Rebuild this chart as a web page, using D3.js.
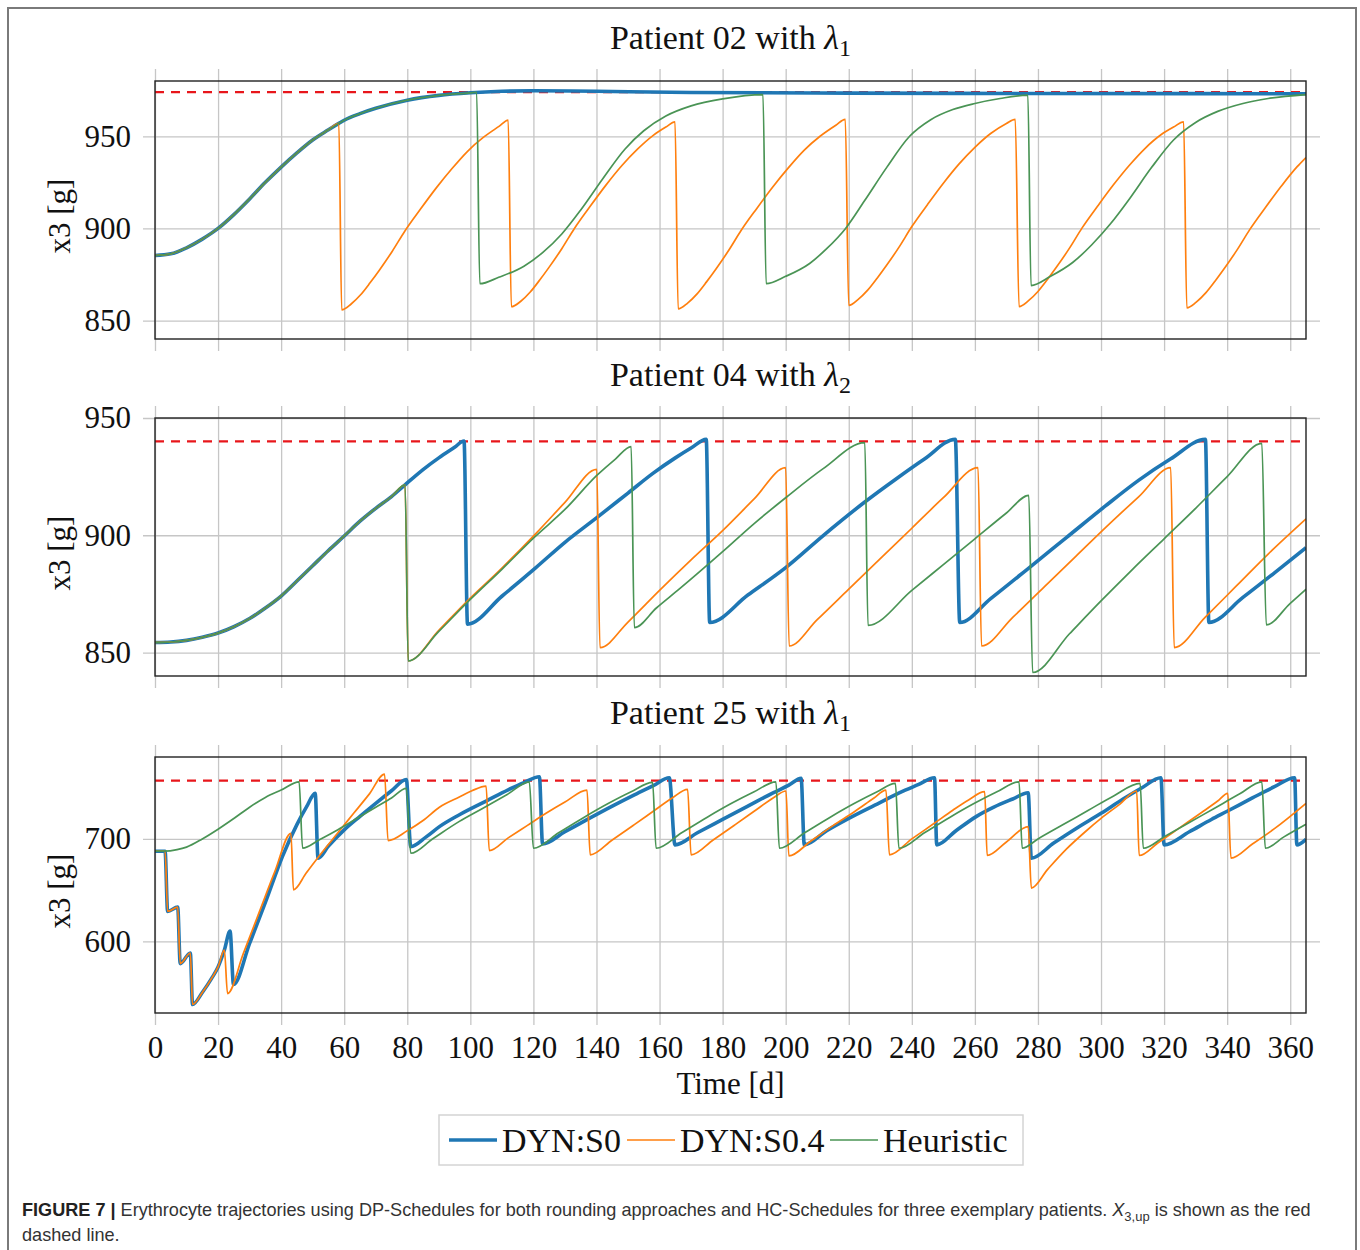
<!DOCTYPE html>
<html>
<head>
<meta charset="utf-8">
<script src="https://cdn.jsdelivr.net/npm/d3@7"></script>
<style>
  body { margin: 0; background: #fff; }
  svg text { font-family: "Liberation Serif", "Times New Roman", serif; fill: #111; }
  .grid line { stroke: #c6c6c6; stroke-width: 1.3; }
  .grid .domain { display: none; }
  text.caption { font-family: "Liberation Sans", Arial, sans-serif; fill: #333; }
</style>
</head>
<body>
<svg id="chart" width="1360" height="1250"></svg>
<script>
// x axis (days) and per-panel y ticks
var dayTicks = [0, 20, 40, 60, 80, 100, 120, 140, 160, 180, 200, 220, 240, 260, 280, 300, 320, 340, 360];
var dayDomain = [0, 365];

var p02Domain = [840, 980], p02Ticks = [850, 900, 950], p02Limit = 974;
var p04Domain = [840, 950], p04Ticks = [850, 900, 950], p04Limit = 940;
var p25Domain = [530, 780], p25Ticks = [600, 700], p25Limit = 757;

var seriesNames = ['DYN:S0', 'DYN:S0.4', 'Heuristic'];

// ---- Patient 02 ----
var p02Rise = [[0, 885.3], [5, 886.2], [10, 889.5], [15, 894.2], [20, 900], [25, 907.5], [30, 916], [35, 925],
  [40, 933.3], [45, 941], [50, 948], [55, 953.5], [58.3, 957]];
var p02Top = [[60, 958.7], [65, 962.3], [70, 965.2], [80, 969.6], [90, 972.2], [100, 973.6]];
var p02Dyn0 = p02Rise.concat(p02Top, [[110, 974.4], [120, 974.7], [140, 974.4], [170, 973.8], [220, 973.4],
  [280, 973.2], [365, 973.1]]);
var p02Dyn04 = p02Rise.concat([
  [59.2, 855.8], [62.2, 859], [65.2, 864], [68.2, 870.5], [71.2, 877.5], [75.2, 887.5], [79.2, 898.5], [84.2, 910.5],
  [89.2, 922], [94.2, 932.5], [99.2, 942], [104.2, 949.5], [109.2, 955.5], [112, 958.8],
  [113, 857.5], [116, 860.5], [119, 865.5], [122, 872], [125, 879], [129, 889], [133, 900], [138, 912],
  [143, 923.5], [148, 934], [153, 943], [158, 950.5], [162, 955], [164.9, 957.8],
  [165.9, 856.3], [168.9, 859.5], [171.9, 864.5], [174.9, 871], [177.9, 878], [181.9, 888], [185.9, 899], [190.9, 911],
  [195.9, 922.5], [200.9, 933], [205.9, 942.5], [210.9, 950], [215.9, 956], [218.9, 959.2],
  [220, 858.2], [223, 861.5], [226, 866.5], [229, 873], [232, 880], [236, 890], [240, 901], [245, 913],
  [250, 924.5], [255, 935], [260, 944], [265, 951.5], [270, 957], [272.8, 959.2],
  [274, 857.6], [277, 860.8], [280, 865.8], [283, 872.3], [286, 879.3], [290, 889.3], [294, 900.3], [299, 912.3],
  [304, 923.8], [309, 934.3], [314, 943.5], [319, 950.8], [323, 955], [326.2, 957.8],
  [327.2, 856.9], [330.2, 860], [333.2, 865], [336.2, 871.5], [339.2, 878.5], [343.2, 888.5], [347.2, 899.5],
  [352.2, 911.5], [357.2, 923], [362.2, 933.5], [365, 938.5]]);
var p02Heur = p02Rise.concat(p02Top, [
  [102, 973.9], [103, 870], [109, 873.5], [117, 879.5], [123, 887], [129, 897], [135, 910], [142, 927], [149, 943],
  [155, 953], [162, 961], [170, 966.5], [180, 970.3], [192.8, 972.6],
  [193.8, 870], [200, 874], [207.6, 881], [213, 889], [219, 900], [225, 915], [232, 933], [239.3, 950], [246, 959],
  [253, 964.5], [260, 967.8], [268, 970.5], [276.8, 972.3],
  [277.8, 869], [284, 874], [291, 881.5], [297, 891], [303, 902.5], [309, 916], [316, 933], [323, 948], [330, 957.5],
  [337, 963.5], [345, 967.8], [353, 970.5], [365, 972.6]]);

// ---- Patient 04 ----
var p04Rise = [[0, 854.3], [5, 854.5], [10, 855.2], [15, 856.5], [20, 858.3], [25, 861], [30, 864.5], [35, 869],
  [40, 874.1], [45, 880.5], [50, 887], [55, 893.5], [60, 899.7], [65, 906], [70, 911.5], [75, 916.5], [79.3, 921.5]];
var p04Dyn0 = p04Rise.concat([
  [85, 928], [90, 933], [95, 937.5], [98, 940.2],
  [99.1, 862.1], [110, 874], [120.6, 886], [130, 897], [140.1, 907.5], [150, 918], [158, 926.5], [165, 933], [170, 937.2], [174.8, 940.9],
  [175.9, 862.8], [188, 874.5], [200, 886.2], [212, 900], [225.5, 914.6], [235, 924], [244, 932.5], [253.8, 940.9],
  [255.2, 862.8], [265, 873], [276.6, 885.5], [289, 899], [301.4, 912.5], [312, 923.5], [322, 932.5], [333.1, 940.9],
  [334.2, 862.8], [345, 873.5], [355, 884], [365, 894.7]]);
var p04Dyn04 = p04Rise.concat([
  [80.3, 846.4], [90, 859.5], [98, 870.6], [110, 886], [120.6, 900.5], [130, 914], [140.1, 928.1],
  [141.1, 852.1], [150, 863], [160, 876.5], [170, 889.5], [180, 902], [190, 915.5], [200, 928.8],
  [201.1, 852.8], [210, 864], [220, 877], [230, 890], [240, 903], [250, 916], [261, 928.8],
  [262.1, 852.8], [272, 865], [282, 878], [292, 891], [302, 904], [312, 916.5], [322.1, 928.8],
  [323.2, 852.1], [333, 865], [343, 878.5], [353, 892], [365, 907]]);
var p04Heur = p04Rise.concat([
  [80.3, 846.4], [90, 859], [98, 870], [110, 885.5], [120.6, 899.5], [130, 911], [140.1, 925.5], [146, 932.5], [151, 937.8],
  [152, 860.6], [159, 869], [166.2, 877], [180, 893], [190, 905], [200, 916], [212, 928.5], [225.1, 939.5],
  [226.1, 861.6], [240, 876.5], [250, 887.5], [260, 898.5], [270, 909.5], [277.1, 917],
  [278.3, 841.5], [290, 858], [300, 872], [310, 885.5], [320, 898.5], [330, 911.5], [340, 925], [351, 939.2],
  [352.4, 861.8], [360, 871], [365, 877]]);

// ---- Patient 25 ----
var p25Dose = [[0, 688], [3.2, 688], [4, 629.2], [7.2, 633.4], [8, 578.2], [11.2, 588.6], [11.9, 538.3],
  [15, 550], [18, 564], [20, 575], [22, 591.5]];
var p25Dyn0 = p25Dose.concat([
  [23.8, 610], [24.9, 557.8], [30, 598], [35, 638], [40.4, 682.8], [45, 714], [48, 731], [50.8, 744.5],
  [51.7, 681.2], [55, 693], [60, 708.8], [65, 722], [70, 734.7], [75, 747], [79.7, 758.1],
  [81.1, 692.5], [86, 702], [90.2, 712], [96.4, 723.4], [105, 737], [112, 748], [117, 755], [121.9, 760.7],
  [122.9, 695.1], [130, 707], [137.7, 720], [145, 732], [152, 743], [158, 752], [163.1, 759.7],
  [164.9, 694.2], [172, 706], [180, 719], [188, 732], [196, 745], [201, 752.5], [204.9, 759.1],
  [205.9, 694.2], [213, 708], [220, 720], [229.6, 735], [236, 745], [242, 753], [247.2, 759.7],
  [247.9, 694.2], [254, 708], [260.4, 721.8], [266, 731], [272, 739], [276.9, 745.1],
  [277.9, 681.2], [285, 696], [292, 710], [300, 725], [307, 739], [313, 750], [319, 759.7],
  [320, 694.2], [328, 707], [335, 719], [340, 727], [348, 740], [355, 751], [361.4, 759.7],
  [362.1, 694.2], [365, 699.7]]);
var p25Dyn04 = p25Dose.concat([
  [23, 549], [28, 588], [33, 628], [38, 668], [43.1, 705.5],
  [43.9, 650.3], [48, 667], [53, 687], [58, 706], [63, 725], [68, 744], [72.8, 763.3],
  [73.9, 698.4], [80, 708], [85, 718], [90.2, 731], [96.5, 741], [100.5, 747], [105, 751.6],
  [106, 688.6], [112, 701], [118, 713], [124, 725], [130, 736], [137, 747.7],
  [138, 684.4], [145, 699], [152, 714], [158, 727], [164, 740], [168.9, 748.4],
  [170, 684.4], [177, 699], [184, 714], [190, 727], [196, 740], [200.1, 746.8],
  [201, 683.4], [208, 698], [215, 713], [222, 727], [228, 740], [231.8, 747.7],
  [232.9, 684.4], [240, 700], [247, 715], [253, 728], [258, 738], [263.1, 746.1],
  [263.9, 683.8], [270, 697], [276.9, 712],
  [277.9, 652], [283, 670], [289, 690], [295, 707], [300, 720], [306, 734], [311.3, 746.8],
  [312.1, 683.8], [318, 696], [325, 711], [332, 726], [337, 737], [340.2, 744.5],
  [341.2, 681.2], [348, 695], [355, 710], [365, 734.7]]);
var p25Heur = [
  [0, 688], [3, 688], [7, 689.5], [10, 692], [15, 700], [20, 709.5], [25, 720], [30, 731], [35, 740.5], [40, 747.7], [45.7, 755.8],
  [46.8, 691], [52, 699], [58, 709], [64, 720], [70, 731], [75, 740], [79.7, 749.4],
  [81.1, 686], [88, 700], [96.4, 716.9], [104, 730], [112, 744], [118.7, 755.8],
  [120, 690.9], [128, 706], [136, 721], [144, 735], [151, 746], [157.8, 755.2],
  [158.9, 690.9], [167, 706], [175, 721], [183, 735], [190, 746], [196.9, 755.8],
  [198, 690.9], [206, 706], [214, 721], [222, 735], [229, 746], [234.8, 754.2],
  [235.9, 690.9], [244, 706], [252, 721], [260, 735], [267, 746], [274, 755.8],
  [275, 690.9], [280, 700], [288, 714], [296, 728], [304, 742], [312.4, 754.2],
  [313.4, 690.9], [320, 702], [328, 716], [336, 730], [344, 744], [351, 755.8],
  [352.1, 690.9], [358, 702], [365, 714.3]];

(function () {
  "use strict";
  var svg = d3.select('#chart');
  var left = 155, right = 1306;
  var colors = ['#1f77b4', '#ff7f0e', '#4a9455'];
  var widths = [3.6, 1.7, 1.7];

  var panels = [
    {num: '02', sub: '1', top: 81, bottom: 339, titleY: 49, domain: p02Domain, ticks: p02Ticks, limit: p02Limit,
      series: [p02Dyn0, p02Dyn04, p02Heur]},
    {num: '04', sub: '2', top: 418, bottom: 676, titleY: 386, domain: p04Domain, ticks: p04Ticks, limit: p04Limit,
      series: [p04Dyn0, p04Dyn04, p04Heur]},
    {num: '25', sub: '1', top: 757, bottom: 1013, titleY: 724, domain: p25Domain, ticks: p25Ticks, limit: p25Limit,
      series: [p25Dyn0, p25Dyn04, p25Heur]}
  ];

  // outer figure frame
  svg.append('rect')
      .attr('x', 8).attr('y', 8).attr('width', 1348).attr('height', 1270)
      .attr('fill', 'none').attr('stroke', '#7a7a7a').attr('stroke-width', 2);

  var x = d3.scaleLinear().domain(dayDomain).range([left, right]);

  panels.forEach(function (p, i) {
    var y = d3.scaleLinear().domain(p.domain).range([p.bottom, p.top]);
    var h = p.bottom - p.top, w = right - left;
    var g = svg.append('g');
    var isLast = i === panels.length - 1;

    // vertical grid (and x tick labels on last panel)
    var xAxis = d3.axisBottom(x).tickValues(dayTicks).tickSize(-(h + 24)).tickPadding(11)
        .tickFormat(isLast ? d3.format('d') : function () { return ''; });
    g.append('g').attr('class', 'grid')
        .attr('transform', 'translate(0,' + (p.bottom + 12) + ')')
        .call(xAxis)
        .selectAll('text').attr('font-size', 31).attr('fill', '#111')
          .attr('font-family', '"Liberation Serif", serif');

    // horizontal grid + y labels
    var yAxis = d3.axisLeft(y).tickValues(p.ticks).tickSize(-(w + 26)).tickPadding(12).tickFormat(d3.format('d'));
    g.append('g').attr('class', 'grid')
        .attr('transform', 'translate(' + (left - 12) + ',0)')
        .call(yAxis)
        .selectAll('text').attr('font-size', 31).attr('fill', '#111')
          .attr('font-family', '"Liberation Serif", serif');

    svg.append('clipPath').attr('id', 'clip' + i)
      .append('rect').attr('x', left).attr('y', p.top).attr('width', w).attr('height', h);

    var plot = g.append('g').attr('clip-path', 'url(#clip' + i + ')');

    // upper limit X3,up
    plot.append('line')
        .attr('x1', x(dayDomain[0])).attr('x2', x(dayDomain[1]))
        .attr('y1', y(p.limit)).attr('y2', y(p.limit))
        .attr('stroke', '#e8161b').attr('stroke-width', 2.2).attr('stroke-dasharray', '9,7');

    var line = d3.line()
        .x(function (d) { return x(d[0]); })
        .y(function (d) { return y(d[1]); })
        .curve(d3.curveMonotoneX);

    p.series.forEach(function (s, k) {
      plot.append('path')
          .datum(s)
          .attr('d', line)
          .attr('fill', 'none')
          .attr('stroke', colors[k])
          .attr('stroke-width', widths[k])
          .attr('stroke-linejoin', 'round');
    });

    // plot frame
    g.append('rect')
        .attr('x', left).attr('y', p.top).attr('width', w).attr('height', h)
        .attr('fill', 'none').attr('stroke', '#222').attr('stroke-width', 1.4);

    // title
    var t = svg.append('text')
        .attr('x', (left + right) / 2).attr('y', p.titleY)
        .attr('text-anchor', 'middle').attr('font-size', 34);
    t.append('tspan').text('Patient ' + p.num + ' with ');
    t.append('tspan').attr('font-style', 'italic').text('\u03bb');
    t.append('tspan').attr('font-size', 24).attr('dy', 7).text(p.sub);

    // y label
    svg.append('text')
        .attr('transform', 'translate(70,' + ((p.top + p.bottom) / 2 + 6) + ') rotate(-90)')
        .attr('text-anchor', 'middle').attr('font-size', 31)
        .text('x3 [g]');
  });

  svg.append('text')
      .attr('x', (left + right) / 2).attr('y', 1094)
      .attr('text-anchor', 'middle').attr('font-size', 31)
      .text('Time [d]');

  // legend
  var legend = svg.append('g');
  legend.append('rect')
      .attr('x', 439).attr('y', 1115).attr('width', 584).attr('height', 50)
      .attr('fill', '#fff').attr('stroke', '#d4d4d4').attr('stroke-width', 1.5);
  var legendX = [449, 627, 830];
  seriesNames.forEach(function (name, k) {
    legend.append('line')
        .attr('x1', legendX[k]).attr('x2', legendX[k] + 48)
        .attr('y1', 1140).attr('y2', 1140)
        .attr('stroke', colors[k]).attr('stroke-width', widths[k]);
    legend.append('text')
        .attr('x', legendX[k] + 53).attr('y', 1152)
        .attr('font-size', 34)
        .text(name);
  });

  // caption
  var cap = svg.append('text').attr('class', 'caption')
      .attr('x', 22).attr('y', 1216).attr('font-size', 18.1);
  cap.append('tspan').attr('font-weight', 'bold').attr('fill', '#222').text('FIGURE 7 |');
  cap.append('tspan').text(' Erythrocyte trajectories using DP-Schedules for both rounding approaches and HC-Schedules for three exemplary patients. ');
  cap.append('tspan').attr('font-style', 'italic').text('X');
  cap.append('tspan').attr('font-size', 13).attr('dy', 5).text('3,up');
  cap.append('tspan').attr('dy', -5).text(' is shown as the red');
  svg.append('text').attr('class', 'caption')
      .attr('x', 22).attr('y', 1241).attr('font-size', 18.1)
      .text('dashed line.');
}());
</script>
</body>
</html>
